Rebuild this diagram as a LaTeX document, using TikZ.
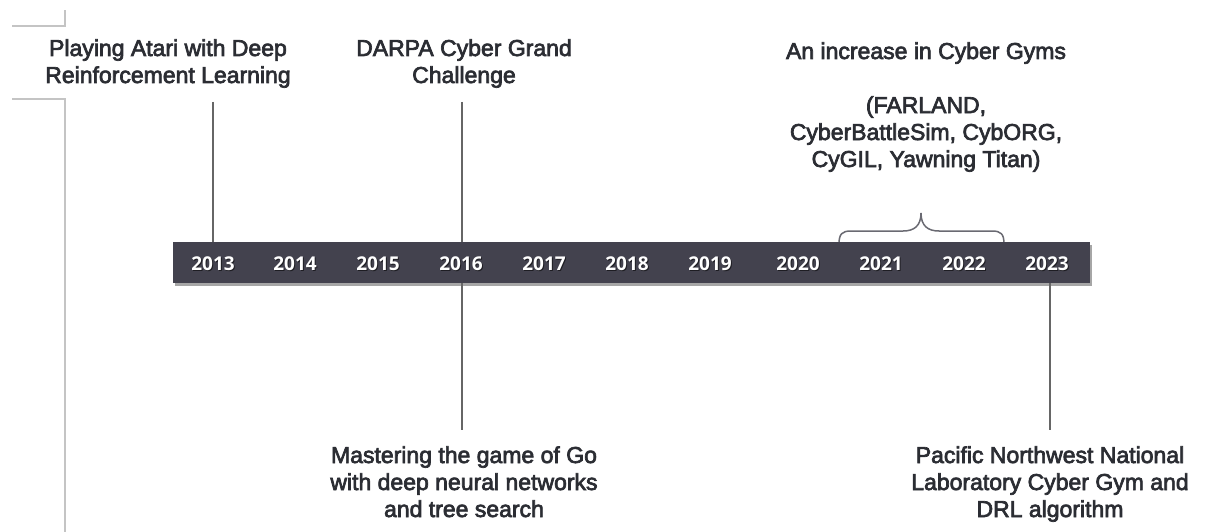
\documentclass[tikz,border=0pt]{standalone}
\usepackage{fontspec}
\usetikzlibrary{calc,shadows}
\setmainfont{Liberation Sans}
\newfontfamily\evtfont{Liberation Sans}[FakeBold=3]
\newfontfamily\yearfont{Open Sans}
\definecolor{barcol}{HTML}{43424E}
\definecolor{ink}{HTML}{2B2D33}
\definecolor{tickgray}{HTML}{666666}
\definecolor{framegray}{HTML}{C4C4C4}
\definecolor{bracegray}{HTML}{6A6A72}
\begin{document}
\begin{tikzpicture}[x=1pt,y=-1pt,
  evt/.style={font=\evtfont\fontsize{23}{27}\selectfont, text=ink, align=center, inner sep=0pt, anchor=base},
  yr/.style={font=\yearfont\bfseries\fontsize{19}{19}\selectfont, text=white, inner sep=0pt},
  yrshadow/.style={yr, text=black, opacity=.55},
  tick/.style={draw=tickgray, line width=1.4pt},
  frame/.style={draw=framegray, line width=1.5pt},
  bracepath/.style={draw=bracegray, line width=1.5pt},
  barbox/.style={fill=barcol, draw=none, minimum width=917pt, minimum height=41pt, inner sep=0pt,
    drop shadow={shadow xshift=1.5pt, shadow yshift=-2.5pt, opacity=.35, fill=black}}]
\useasboundingbox[fill=white] (0,0) rectangle (1206,532);

% page frame lines on the left
\draw[frame] (12,26) -- (65,26) -- (65,10);
\draw[frame] (12,99) -- (65,99) -- (65,532);

% brace over 2021--2022
\draw[bracepath] (839,244) .. controls (839,234) and (842,231) .. (851,231) -- (903,231)
  .. controls (914,231) and (921,226) .. (921,213)
  .. controls (921,226) and (928,231) .. (939,231) -- (992,231)
  .. controls (1001,231) and (1004,234) .. (1004,244);

% timeline bar
\node[barbox, anchor=north west] (bar) at (173,242) {};

% years
\foreach \yy/\xx in {2013/213,2014/295,2015/378,2016/461,2017/544,2018/627,2019/710,2020/798,2021/881,2022/964,2023/1047}{
  \node[yrshadow] at (\xx+1,265.2) {\yy};
  \node[yr] (y\yy) at (\xx,264) {\yy};
}

% events (anchored at the baseline of the last line)
\node[evt] (atari) at (168,83) {Playing Atari with Deep\\Reinforcement Learning};
\node[evt] (darpa) at (464,83) {DARPA Cyber Grand\\Challenge};
\node[evt] (gyms) at (926,167) {An increase in Cyber Gyms\\[27pt](FARLAND,\\CyberBattleSim, CybORG,\\CyGIL, Yawning Titan)};
\node[evt] (alphago) at (464,517) {Mastering the game of Go\\with deep neural networks\\and tree search};
\node[evt] (pnnl) at (1050,517) {Pacific Northwest National\\Laboratory Cyber Gym and\\DRL algorithm};

% connectors
\coordinate (atariend) at (213,102);
\coordinate (darpaend) at (462,102);
\coordinate (alphagoend) at (462,430);
\coordinate (pnnlend) at (1050,430);
\draw[tick] (atariend) -- (atariend |- bar.north);
\draw[tick] (darpaend) -- (darpaend |- bar.north);
\draw[tick] (alphagoend |- bar.south) -- (alphagoend);
\draw[tick] (pnnlend |- bar.south) -- (pnnlend);
\end{tikzpicture}
\end{document}
